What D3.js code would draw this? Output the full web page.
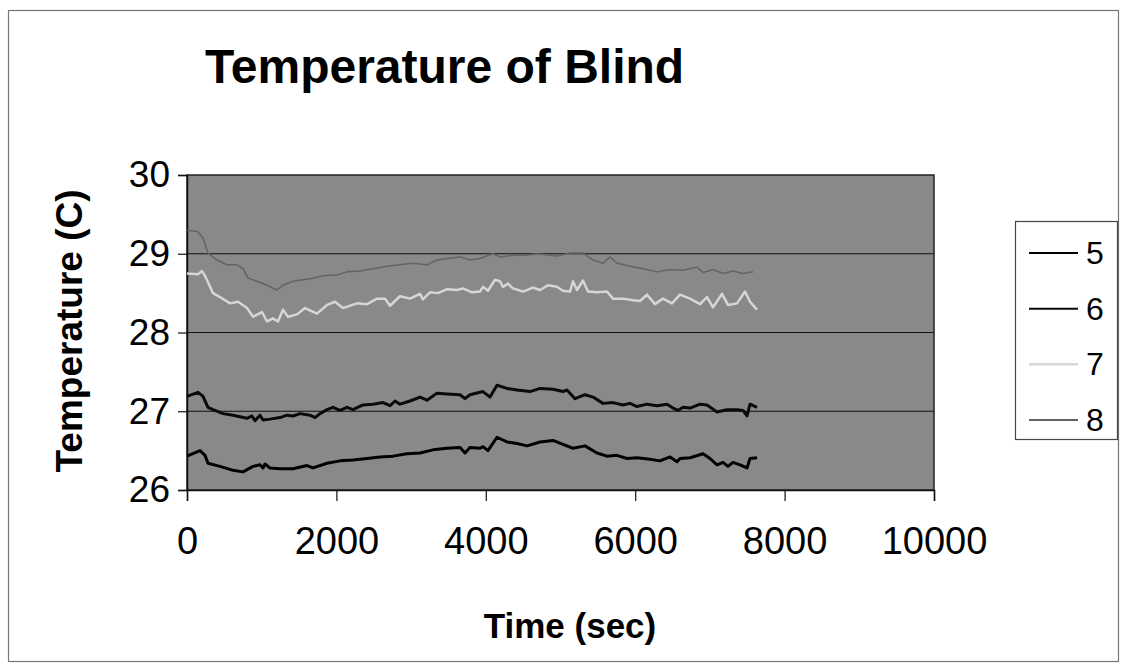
<!DOCTYPE html>
<html><head><meta charset="utf-8">
<script src="https://cdn.jsdelivr.net/npm/d3@7"></script>
<style>body{margin:0;background:#fff}svg{display:block}text{font-family:"Liberation Sans",Arial,sans-serif}</style>
</head><body>
<script>
const chartTitle = "Temperature of Blind";
const xLabel = "Time (sec)";
const yLabel = "Temperature (C)";
const xTicks = [0, 2000, 4000, 6000, 8000, 10000];
const yTicks = [26, 27, 28, 29, 30];
const seriesNames = ["5", "6", "7", "8"];

const series5 = [[0,26.43],[174,26.50],[241,26.44],[281,26.34],[442,26.30],[616,26.25],[750,26.23],[884,26.30],[977,26.32],[1017,26.28],[1044,26.33],[1111,26.28],[1245,26.27],[1419,26.27],[1606,26.31],[1687,26.28],[1874,26.34],[2048,26.37],[2222,26.38],[2410,26.40],[2584,26.42],[2758,26.43],[2945,26.46],[3119,26.47],[3293,26.51],[3481,26.53],[3655,26.54],[3722,26.47],[3788,26.54],[3922,26.53],[3963,26.55],[4029,26.50],[4150,26.67],[4284,26.61],[4418,26.59],[4552,26.56],[4726,26.61],[4900,26.63],[5033,26.58],[5167,26.53],[5328,26.56],[5489,26.47],[5622,26.43],[5756,26.44],[5890,26.40],[6024,26.41],[6198,26.39],[6332,26.37],[6466,26.42],[6560,26.36],[6600,26.40],[6734,26.41],[6908,26.46],[7001,26.40],[7095,26.32],[7175,26.35],[7242,26.30],[7309,26.35],[7403,26.32],[7497,26.28],[7537,26.40],[7631,26.41]];

const series6 = [[0,27.19],[147,27.24],[214,27.19],[281,27.05],[348,27.02],[482,26.97],[616,26.95],[803,26.91],[870,26.94],[910,26.88],[977,26.95],[1017,26.89],[1111,26.90],[1245,26.92],[1339,26.95],[1419,26.94],[1513,26.97],[1647,26.95],[1714,26.92],[1780,26.97],[1874,27.02],[1955,27.05],[2048,27.01],[2142,27.05],[2222,27.02],[2356,27.08],[2490,27.09],[2624,27.11],[2718,27.07],[2785,27.13],[2851,27.09],[2985,27.13],[3119,27.18],[3213,27.14],[3347,27.23],[3481,27.22],[3655,27.21],[3722,27.16],[3788,27.21],[3963,27.25],[4056,27.18],[4150,27.33],[4284,27.29],[4418,27.27],[4592,27.25],[4726,27.29],[4900,27.28],[5033,27.25],[5087,27.27],[5194,27.16],[5328,27.21],[5435,27.18],[5569,27.10],[5703,27.11],[5837,27.08],[5930,27.10],[6024,27.06],[6158,27.09],[6292,27.07],[6426,27.09],[6506,27.04],[6573,27.01],[6640,27.05],[6734,27.04],[6868,27.09],[6961,27.08],[7095,26.99],[7229,27.02],[7363,27.02],[7443,27.01],[7497,26.94],[7537,27.09],[7631,27.05]];

const series7 = [[0,28.75],[147,28.74],[201,28.78],[241,28.72],[348,28.50],[442,28.45],[576,28.37],[683,28.39],[803,28.31],[884,28.20],[1004,28.26],[1071,28.14],[1151,28.18],[1218,28.14],[1285,28.29],[1352,28.20],[1473,28.23],[1580,28.31],[1740,28.24],[1874,28.35],[1981,28.39],[2088,28.31],[2276,28.37],[2410,28.36],[2544,28.43],[2651,28.43],[2718,28.34],[2851,28.46],[2985,28.43],[3119,28.49],[3159,28.42],[3253,28.51],[3360,28.50],[3481,28.55],[3615,28.54],[3695,28.56],[3815,28.51],[3922,28.52],[3963,28.58],[4029,28.53],[4123,28.67],[4190,28.65],[4230,28.58],[4297,28.62],[4364,28.56],[4498,28.52],[4632,28.57],[4726,28.54],[4833,28.60],[4953,28.58],[5033,28.53],[5127,28.52],[5167,28.65],[5221,28.54],[5301,28.66],[5368,28.52],[5489,28.51],[5622,28.52],[5703,28.43],[5837,28.43],[5971,28.41],[6064,28.40],[6158,28.48],[6265,28.36],[6372,28.43],[6493,28.37],[6600,28.48],[6734,28.43],[6868,28.36],[6961,28.45],[7042,28.32],[7162,28.49],[7242,28.35],[7363,28.37],[7470,28.52],[7537,28.39],[7631,28.29]];

const series8 = [[0,29.30],[147,29.28],[214,29.20],[281,29.01],[402,28.92],[535,28.86],[669,28.86],[750,28.81],[817,28.69],[937,28.65],[1071,28.60],[1205,28.54],[1285,28.60],[1419,28.65],[1553,28.67],[1687,28.69],[1821,28.72],[2008,28.73],[2142,28.77],[2316,28.78],[2490,28.81],[2677,28.84],[2851,28.86],[3025,28.88],[3213,28.86],[3347,28.92],[3481,28.94],[3655,28.96],[3788,28.92],[3922,28.94],[4096,29.00],[4190,28.96],[4364,28.98],[4552,28.98],[4685,29.00],[4953,28.97],[5127,29.01],[5301,29.01],[5435,28.92],[5569,28.88],[5663,28.96],[5756,28.88],[5930,28.84],[6104,28.81],[6292,28.77],[6466,28.80],[6640,28.79],[6827,28.83],[6908,28.76],[7042,28.80],[7175,28.75],[7309,28.78],[7443,28.75],[7577,28.77]];

const W = 1122, H = 665;
const plot = {left: 187, right: 934, top: 175, bottom: 490};
const styles = [
  {color: "#000", width: 3},
  {color: "#0a0a0a", width: 3},
  {color: "#d6d6d6", width: 2.5},
  {color: "#646464", width: 1.5}
];
const allSeries = [series5, series6, series7, series8];

const svg = d3.select("body").append("svg").attr("width", W).attr("height", H);
svg.append("rect").attr("x", 8.5).attr("y", 10.5).attr("width", 1110).attr("height", 651)
  .attr("fill", "#fff").attr("stroke", "#777").attr("stroke-width", 1.2);

const x = d3.scaleLinear().domain([0, 10000]).range([plot.left, plot.right]);
const y = d3.scaleLinear().domain([26, 30]).range([plot.bottom, plot.top]);

svg.append("rect").attr("x", plot.left).attr("y", plot.top)
  .attr("width", plot.right - plot.left).attr("height", plot.bottom - plot.top)
  .attr("fill", "#898989");

// gridlines
svg.append("g").selectAll("line").data(yTicks.slice(1, -1)).join("line")
  .attr("x1", plot.left).attr("x2", plot.right)
  .attr("y1", d => y(d)).attr("y2", d => y(d))
  .attr("stroke", "#111").attr("stroke-width", 1.2);

// plot border
svg.append("rect").attr("x", plot.left).attr("y", plot.top)
  .attr("width", plot.right - plot.left).attr("height", plot.bottom - plot.top)
  .attr("fill", "none").attr("stroke", "#222").attr("stroke-width", 1.5);

// axes
const yAxis = d3.axisLeft(y).tickValues(yTicks).tickSize(9).tickPadding(8).tickFormat(d3.format("d"));
const gy = svg.append("g").attr("transform", `translate(${plot.left},0)`).call(yAxis);
gy.select(".domain").attr("stroke", "#111").attr("stroke-width", 1.5);
gy.selectAll(".tick line").attr("stroke", "#111").attr("stroke-width", 1.2);
gy.selectAll(".tick text").attr("font-size", 37).attr("fill", "#000")
  .attr("font-family", "'Liberation Sans', Arial, sans-serif");

const xAxis = d3.axisBottom(x).tickValues(xTicks).tickSize(11).tickPadding(26).tickFormat(d3.format("d"));
const gx = svg.append("g").attr("transform", `translate(0,${plot.bottom})`).call(xAxis);
gx.select(".domain").attr("stroke", "#111").attr("stroke-width", 1.5);
gx.selectAll(".tick line").attr("stroke", "#111").attr("stroke-width", 1.2);
gx.selectAll(".tick text").attr("font-size", 38).attr("fill", "#000")
  .attr("font-family", "'Liberation Sans', Arial, sans-serif");

// lines
const line = d3.line().x(d => x(d[0])).y(d => y(d[1])).curve(d3.curveLinear);
const order = [3, 2, 1, 0];
svg.append("g").selectAll("path").data(order).join("path")
  .attr("d", i => line(allSeries[i]))
  .attr("fill", "none")
  .attr("stroke", i => styles[i].color)
  .attr("stroke-width", i => styles[i].width)
  .attr("stroke-linejoin", "round");

// title & labels
svg.append("text").attr("x", 205).attr("y", 83).attr("font-size", 48).attr("font-weight", "bold")
  .text(chartTitle);
svg.append("text").attr("transform", "translate(82,331) rotate(-90)").attr("text-anchor", "middle")
  .attr("font-size", 37).attr("font-weight", "bold").text(yLabel);
svg.append("text").attr("x", 570).attr("y", 638).attr("text-anchor", "middle")
  .attr("font-size", 35).attr("font-weight", "bold").text(xLabel);

// legend
const lg = svg.append("g");
lg.append("rect").attr("x", 1015.5).attr("y", 221.5).attr("width", 102).attr("height", 218)
  .attr("fill", "#fff").attr("stroke", "#444").attr("stroke-width", 1.2);
const ly = d3.scalePoint().domain(seriesNames).range([253, 420]);
const items = lg.selectAll("g.item").data(seriesNames).join("g").attr("class", "item")
  .attr("transform", d => `translate(0,${ly(d)})`);
items.append("line").attr("x1", 1029).attr("x2", 1078).attr("y1", 0).attr("y2", 0)
  .attr("stroke", (d, i) => styles[i].color).attr("stroke-width", (d, i) => i === 2 ? 2.5 : 2);
items.append("text").attr("x", 1086).attr("y", 11).attr("font-size", 32).text(d => d);
</script>
</body></html>
